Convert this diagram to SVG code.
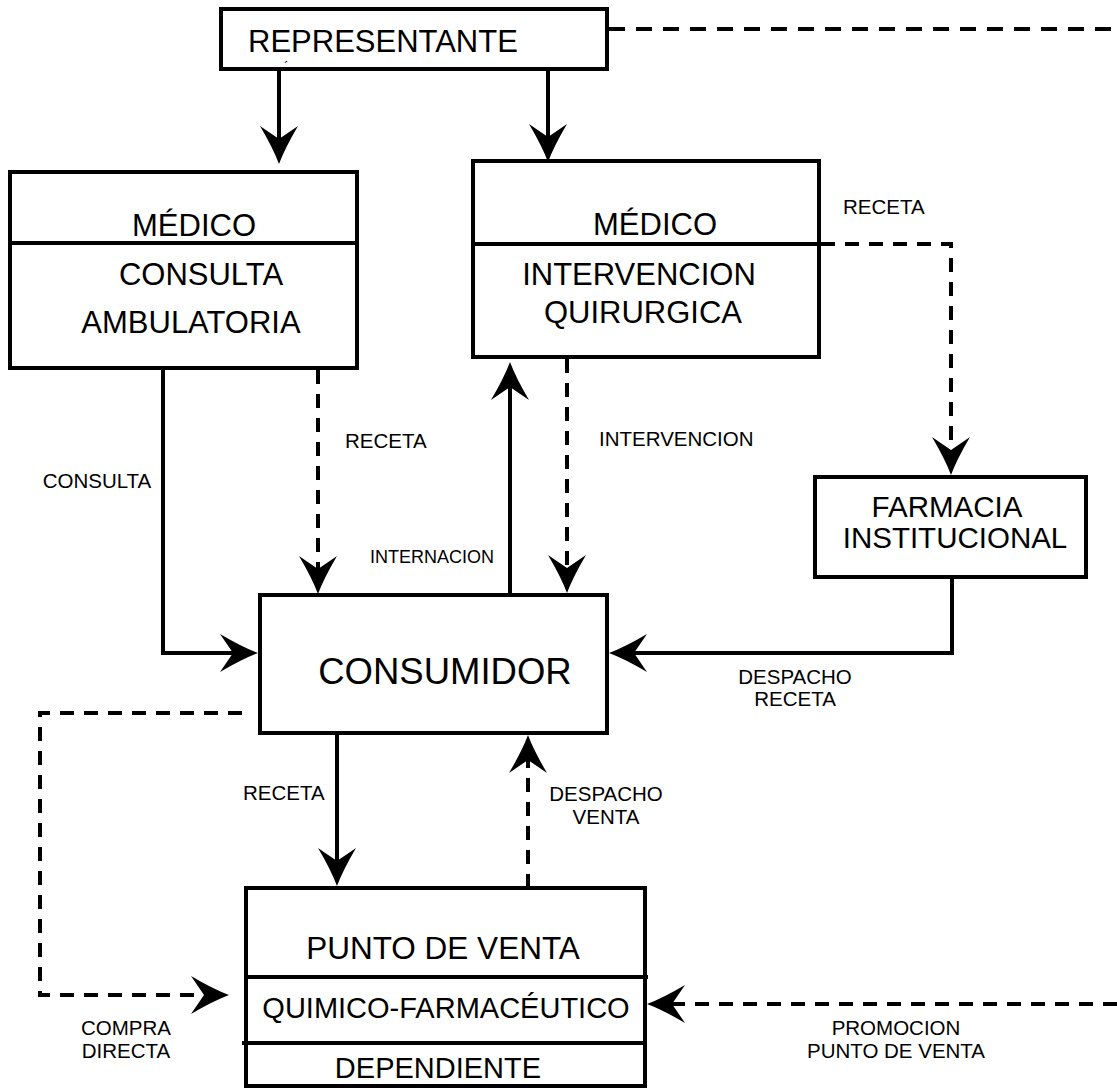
<svg xmlns="http://www.w3.org/2000/svg" width="1117" height="1088" viewBox="0 0 1117 1088">
<style>
  .box { fill: #fff; stroke: #000; stroke-width: 4; }
  .div { stroke: #000; stroke-width: 4; }
  .t { font-family: "Liberation Sans", Arial, sans-serif; fill: #000; }
  .big { font-size: 31px; }
  .lbl { font-size: 20.5px; }
  .mid { text-anchor: middle; }
  .solid { fill: none; stroke: #000; stroke-width: 4; marker-end: url(#ah); }
  .dash { fill: none; stroke: #000; stroke-width: 4; stroke-dasharray: 14 10; marker-end: url(#ah); }
  .dashplain { fill: none; stroke: #000; stroke-width: 4; stroke-dasharray: 16 11; }
</style>
<defs>
  <marker id="ah" markerUnits="userSpaceOnUse" markerWidth="40" markerHeight="40" viewBox="0 0 40 40" refX="28" refY="20" orient="auto">
    <path d="M0,1 Q22,14 38,20 Q22,26 0,39 L13,20 Z" fill="#000"/>
  </marker>
</defs>
<rect width="1117" height="1088" fill="#fff"/>

<g id="connectors">
  <path class="solid" d="M279,69 L279,154"/>
  <path class="solid" d="M548,69 L548,152"/>
  <path class="dashplain" d="M609,29 L1117,29"/>
  <path class="dash" d="M821,244 L951,244 L951,465"/>
  <path class="solid" d="M952,577 L952,653 L619,653"/>
  <path class="solid" d="M163,368 L163,653 L248,653"/>
  <path class="dash" d="M318,370 L318,584"/>
  <path class="solid" d="M510,595 L510,372"/>
  <path class="dash" d="M567,359 L567,583"/>
  <path class="solid" d="M337,733 L337,876"/>
  <path class="dash" d="M528,888 L528,745"/>
  <path class="dash" d="M242,713 L40,713 L40,995 L219,995"/>
  <path class="dash" d="M1117,1004 L657,1004"/>
</g>

<g id="representante">
  <rect class="box" x="221" y="9" width="386" height="60"/>
  <text class="t big" x="248" y="52">REPRESENTANTE</text>
  <text class="t" x="284" y="72" font-size="14">´</text>
</g>

<g id="medico-consulta">
  <rect class="box" x="10" y="172" width="347" height="196"/>
  <text class="t big mid" x="194" y="236">MÉDICO</text>
  <line class="div" x1="10" y1="243" x2="357" y2="243"/>
  <text class="t big mid" x="201" y="285">CONSULTA</text>
  <text class="t big mid" x="191" y="333">AMBULATORIA</text>
</g>

<g id="medico-intervencion">
  <rect class="box" x="473" y="161" width="346" height="196"/>
  <text class="t big mid" x="655" y="235">MÉDICO</text>
  <line class="div" x1="473" y1="244" x2="821" y2="244"/>
  <text class="t big mid" x="639" y="285">INTERVENCION</text>
  <text class="t big mid" x="643" y="323">QUIRURGICA</text>
</g>

<g id="farmacia">
  <rect class="box" x="815" y="477" width="271" height="100"/>
  <text class="t mid" x="947" y="517" font-size="29.5">FARMACIA</text>
  <text class="t mid" x="955" y="548" font-size="29.5">INSTITUCIONAL</text>
</g>

<g id="consumidor">
  <rect class="box" x="260" y="595" width="347" height="138"/>
  <text class="t mid" x="445" y="684" font-size="36.5">CONSUMIDOR</text>
</g>

<g id="punto-venta">
  <rect class="box" x="246" y="888" width="399" height="198"/>
  <text class="t mid" x="443" y="959" font-size="31.5">PUNTO DE VENTA</text>
  <line class="div" x1="246" y1="977" x2="648" y2="977"/>
  <text class="t mid" x="446" y="1018" font-size="29">QUIMICO-FARMACÉUTICO</text>
  <line class="div" x1="242" y1="1043" x2="645" y2="1043"/>
  <text class="t mid" x="438" y="1078" font-size="29">DEPENDIENTE</text>
</g>

<g id="labels">
  <text class="t lbl" x="843" y="214">RECETA</text>
  <text class="t lbl" x="345" y="448">RECETA</text>
  <text class="t lbl mid" x="97" y="488">CONSULTA</text>
  <text class="t" x="370" y="563" font-size="18">INTERNACION</text>
  <text class="t lbl" x="599" y="446">INTERVENCION</text>
  <text class="t lbl mid" x="795" y="684">DESPACHO</text>
  <text class="t lbl mid" x="795" y="706">RECETA</text>
  <text class="t lbl" x="243" y="800">RECETA</text>
  <text class="t lbl mid" x="606" y="801">DESPACHO</text>
  <text class="t lbl mid" x="606" y="824">VENTA</text>
  <text class="t lbl mid" x="126" y="1035">COMPRA</text>
  <text class="t lbl mid" x="126" y="1058">DIRECTA</text>
  <text class="t lbl mid" x="896" y="1035">PROMOCION</text>
  <text class="t lbl mid" x="896" y="1058">PUNTO DE VENTA</text>
</g>
</svg>
